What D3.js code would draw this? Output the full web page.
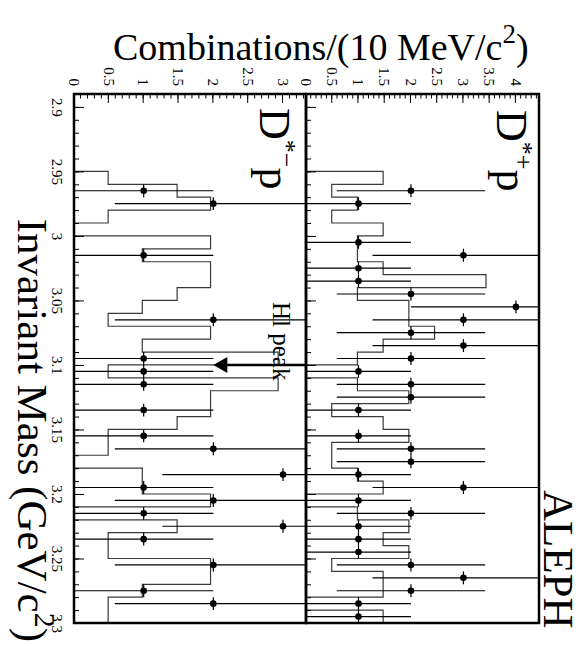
<!DOCTYPE html>
<html lang="en">
<head>
  <meta charset="UTF-8">
  <title>D*p invariant mass</title>
  <script src="https://d3js.org/d3.v7.min.js"></script>
</head>
<style>
  body { margin: 0; background: white; }
  text { font-family: "Liberation Serif", "Times New Roman", serif; fill: black; }
  .hist { fill: none; stroke: #3a3a3a; stroke-width: 1.2px; }
  .err { stroke: black; stroke-width: 1.2px; }
  .frame { fill: none; stroke: black; stroke-width: 2.5px; }
  .axis path.domain { display: none; }
  .axis line { stroke: black; stroke-width: 1px; }
</style>
<body>
<svg id="chart" width="583" height="646"></svg>

<script>
  // 10 MeV bins of the invariant mass
  const binEdges = [2.89, 2.90, 2.91, 2.92, 2.93, 2.94, 2.95, 2.96, 2.97, 2.98, 2.99,
                    3.00, 3.01, 3.02, 3.03, 3.04, 3.05, 3.06, 3.07, 3.08, 3.09,
                    3.10, 3.11, 3.12, 3.13, 3.14, 3.15, 3.16, 3.17, 3.18, 3.19,
                    3.20, 3.21, 3.22, 3.23, 3.24, 3.25, 3.26, 3.27, 3.28, 3.29, 3.30];

  // background histograms (one value per bin)
  const histPlus  = [0, 0, 0, 0, 0, 0, 1.47, 0.49, 0.98, 0.49, 1.47, 0.98, 0.98, 1.47, 3.43,
                     0.98, 1.96, 1.96, 2.45, 1.47, 0.98, 0, 0.98, 1.96, 0.49, 1.47, 1.96,
                     0.49, 0.49, 0.98, 1.47, 0, 0.98, 1.96, 1.47, 1.96, 0.49, 1.47, 1.47, 0, 1.47];
  const histMinus = [0, 0, 0, 0, 0, 0, 0.49, 1.48, 1.96, 0.49, 0, 1.96, 0.98, 1.96, 1.96,
                     1.48, 0.98, 0.49, 1.96, 0.98, 2.93, 0.49, 2.93, 1.96, 1.96, 1.48, 0.49,
                     0.49, 0, 0.98, 0.98, 1.96, 0, 1.48, 0.49, 0.49, 1.96, 1.96, 0.98, 0.49, 0.49];

  // data points: D*+ p
  const plusMass  = [2.965, 2.975, 3.005, 3.015, 3.025, 3.035, 3.045, 3.055, 3.065, 3.075, 3.085,
                     3.095, 3.105, 3.115, 3.125, 3.135, 3.155, 3.165, 3.175, 3.185, 3.195, 3.205,
                     3.215, 3.225, 3.235, 3.245, 3.255, 3.265, 3.275, 3.285, 3.295];
  const plusCount = [2, 1, 1, 3, 1, 1, 2, 4, 3, 2, 3,
                     2, 1, 2, 2, 1, 1, 2, 2, 1, 3, 1,
                     2, 1, 1, 1, 2, 3, 2, 1, 1];

  // data points: D*- p
  const minusMass  = [2.965, 2.975, 3.015, 3.065, 3.095, 3.105, 3.115, 3.135, 3.155, 3.165,
                      3.185, 3.195, 3.205, 3.215, 3.225, 3.235, 3.255, 3.275, 3.285];
  const minusCount = [1, 2, 1, 2, 1, 1, 1, 1, 1, 2,
                      3, 1, 2, 1, 3, 1, 2, 1, 2];

  const massTicks = [2.9, 2.95, 3.0, 3.05, 3.1, 3.15, 3.2, 3.25, 3.3];
  const massTickLabels = ["2.9", "2.95", "3", "3.05", "3.1", "3.15", "3.2", "3.25", "3.3"];
  const plusTicks = [0, 0.5, 1, 1.5, 2, 2.5, 3, 3.5, 4];
  const plusTickLabels = ["0", "0.5", "1", "1.5", "2", "2.5", "3", "3.5", "4"];
  const minusTicks = [0, 0.5, 1, 1.5, 2, 2.5, 3];
  const minusTickLabels = ["0", "0.5", "1", "1.5", "2", "2.5", "3"];

  // H1 peak marker
  const peakMass = 3.10;
  const peakArrowTo = 2.0;

  const svg = d3.select("#chart");

  // The plot is drawn upright and then turned 90 degrees clockwise.
  const g = svg.append("g").attr("transform", "translate(583,0) rotate(90)");

  const x = d3.scaleLinear().domain([2.89, 3.30]).range([94, 623]);
  const yPlus = d3.scaleLinear().domain([0, 4.44]).range([277, 44]);
  const yMinus = d3.scaleLinear().domain([0, 3.33]).range([509, 277]);

  const panels = [
    {id: "plus", y: yPlus, hist: histPlus, mass: plusMass, count: plusCount,
     ticks: plusTicks, labels: plusTickLabels, minor: 44},
    {id: "minus", y: yMinus, hist: histMinus, mass: minusMass, count: minusCount,
     ticks: minusTicks, labels: minusTickLabels, minor: 33}
  ];

  const fontFamily = "Liberation Serif, Times New Roman, serif";

  panels.forEach(p => {
    const top = p.y.range()[1], bottom = p.y.range()[0];

    g.append("clipPath").attr("id", "clip-" + p.id)
      .append("rect")
      .attr("x", x.range()[0]).attr("y", top)
      .attr("width", x.range()[1] - x.range()[0]).attr("height", bottom - top);

    const inner = g.append("g").attr("clip-path", "url(#clip-" + p.id + ")");

    // background histogram as a step line
    const steps = p.hist.map((v, i) => [binEdges[i], v]);
    steps.push([binEdges[binEdges.length - 1], p.hist[p.hist.length - 1]]);
    const line = d3.line().x(d => x(d[0])).y(d => p.y(d[1])).curve(d3.curveStepAfter);
    inner.append("path").attr("class", "hist").attr("d", line(steps));

    // data points with sqrt(n) errors
    const pts = p.mass.map((m, i) => ({m: m, n: p.count[i]}));
    const pg = inner.append("g").selectAll("g").data(pts).join("g");
    pg.append("line").attr("class", "err")
      .attr("x1", d => x(d.m)).attr("x2", d => x(d.m))
      .attr("y1", d => p.y(d.n - Math.sqrt(d.n)))
      .attr("y2", d => p.y(d.n + Math.sqrt(d.n)));
    pg.append("line").attr("class", "err")
      .attr("x1", d => x(d.m - 0.005)).attr("x2", d => x(d.m + 0.005))
      .attr("y1", d => p.y(d.n)).attr("y2", d => p.y(d.n));
    pg.append("circle")
      .attr("cx", d => x(d.m)).attr("cy", d => p.y(d.n)).attr("r", 3.3)
      .attr("fill", "black");

    // value axis
    g.append("g").attr("class", "axis")
      .attr("transform", "translate(" + x.range()[0] + ",0)")
      .call(d3.axisLeft(p.y).tickValues(p.y.ticks(p.minor)).tickSize(-4.5).tickFormat(""));
    g.append("g").attr("class", "axis")
      .attr("transform", "translate(" + x.range()[0] + ",0)")
      .call(d3.axisLeft(p.y).tickValues(p.ticks).tickSize(-9).tickPadding(8)
        .tickFormat((d, i) => p.labels[i]))
      .attr("font-size", 15).attr("font-family", fontFamily);

    // mass axis along the lower edge of each panel
    g.append("g").attr("class", "axis")
      .attr("transform", "translate(0," + bottom + ")")
      .call(d3.axisBottom(x).tickValues(x.ticks(41)).tickSize(-5).tickFormat(""));
    const massAxis = d3.axisBottom(x).tickValues(massTicks).tickSize(-10).tickPadding(11);
    if (p.id == "minus") {
      massAxis.tickFormat((d, i) => massTickLabels[i]);
    } else {
      massAxis.tickFormat("");
    }
    g.append("g").attr("class", "axis")
      .attr("transform", "translate(0," + bottom + ")")
      .call(massAxis)
      .attr("font-size", 15).attr("font-family", fontFamily);

    // frame
    g.append("rect").attr("class", "frame")
      .attr("x", x.range()[0]).attr("y", top)
      .attr("width", x.range()[1] - x.range()[0]).attr("height", bottom - top);
  });

  // panel labels
  const lp = g.append("text").attr("x", 110).attr("y", 86).attr("font-size", 44);
  lp.append("tspan").text("D");
  lp.append("tspan").attr("font-size", 26).attr("dy", -18).text("*+");
  lp.append("tspan").attr("dy", 18).text("p");

  const lm = g.append("text").attr("x", 108).attr("y", 323).attr("font-size", 44);
  lm.append("tspan").text("D");
  lm.append("tspan").attr("font-size", 26).attr("dy", -18).text("*\u2212");
  lm.append("tspan").attr("dy", 18).text("p");

  g.append("text").attr("x", 490).attr("y", 39).attr("font-size", 43).text("ALEPH");

  // H1 peak arrow
  const yTopMinus = yMinus.range()[1];
  const tipV = yMinus(peakArrowTo);
  g.append("line")
    .attr("x1", x(peakMass)).attr("x2", x(peakMass))
    .attr("y1", yTopMinus).attr("y2", tipV - 10)
    .attr("stroke", "black").attr("stroke-width", 2.5);
  g.append("path")
    .attr("d", "M" + x(peakMass) + "," + tipV +
               "L" + (x(peakMass) - 8) + "," + (tipV - 14) +
               "L" + (x(peakMass) + 8) + "," + (tipV - 14) + "Z")
    .attr("fill", "black");
  g.append("text").attr("x", 302).attr("y", 310).attr("font-size", 25).text("Hl peak");

  // axis titles
  const xt = g.append("text").attr("x", 642).attr("y", 565).attr("font-size", 43)
    .attr("text-anchor", "end");
  xt.append("tspan").text("Invariant Mass (GeV/c");
  xt.append("tspan").attr("font-size", 30).attr("dy", -17).text("2");
  xt.append("tspan").attr("dy", 17).text(")");

  const yt = svg.append("text").attr("x", 113).attr("y", 60).attr("font-size", 38);
  yt.append("tspan").text("Combinations/(10 MeV/c");
  yt.append("tspan").attr("font-size", 27).attr("dy", -17).text("2");
  yt.append("tspan").attr("dy", 17).text(")");
</script>
</body>
</html>
